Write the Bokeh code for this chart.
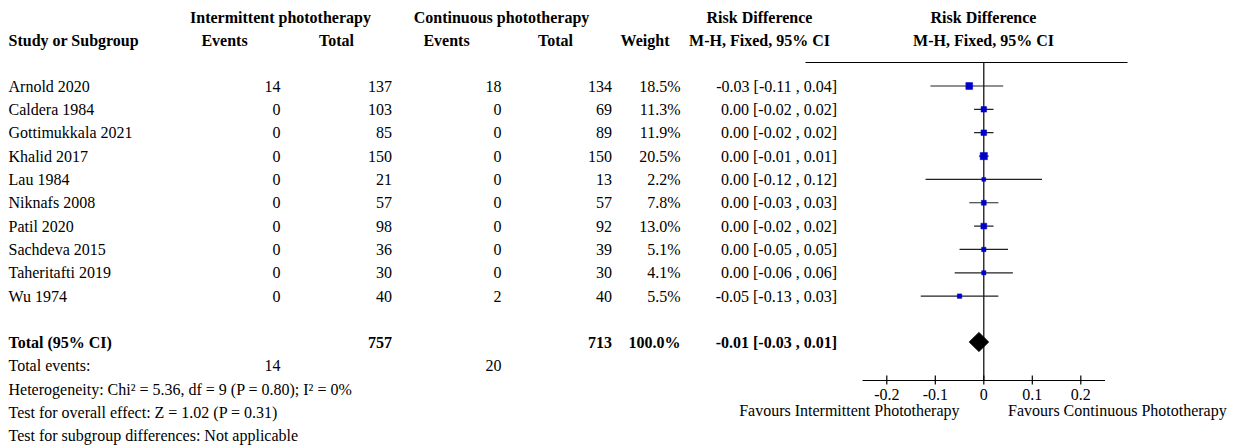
from bokeh.plotting import figure
from bokeh.models import Range1d, ColumnDataSource
from bokeh.core.properties import value
from bokeh.embed import file_html
from bokeh.resources import INLINE

# ---- data -------------------------------------------------------------
studies = ["Arnold 2020", "Caldera 1984", "Gottimukkala 2021", "Khalid 2017",
           "Lau 1984", "Niknafs 2008", "Patil 2020", "Sachdeva 2015",
           "Taheritafti 2019", "Wu 1974"]
int_events = [14, 0, 0, 0, 0, 0, 0, 0, 0, 0]
int_total = [137, 103, 85, 150, 21, 57, 98, 36, 30, 40]
cont_events = [18, 0, 0, 0, 0, 0, 0, 0, 0, 2]
cont_total = [134, 69, 89, 150, 13, 57, 92, 39, 30, 40]
weights = [18.5, 11.3, 11.9, 20.5, 2.2, 7.8, 13.0, 5.1, 4.1, 5.5]
rd = [-0.03, 0.00, 0.00, 0.00, 0.00, 0.00, 0.00, 0.00, 0.00, -0.05]
ci_lo = [-0.11, -0.02, -0.02, -0.01, -0.12, -0.03, -0.02, -0.05, -0.06, -0.13]
ci_hi = [0.04, 0.02, 0.02, 0.01, 0.12, 0.03, 0.02, 0.05, 0.06, 0.03]

total_int = 757
total_cont = 713
total_weight = 100.0
total_rd = -0.01
total_lo = -0.03
total_hi = 0.01
events_int = 14
events_cont = 20

tick_values = [-0.2, -0.1, 0, 0.1, 0.2]
tick_labels = ["-0.2", "-0.1", "0", "0.1", "0.2"]
axis_span = [-0.25, 0.25]

FONT = value("Liberation Serif")
FS = "16px"

# ---- layout -----------------------------------------------------------
W, H = 1235, 445
zero_px = 983.3          # screen x of RD = 0
px_per_unit = 485.0      # screen px per 1.0 risk difference

row0 = 85.5
row_step = 23.35
row_y = [row0 + i * row_step for i in range(len(studies))]
total_y = 341.5
summary_y = [365, 388.5, 411.5, 435]
axis_y = 380
top_rule_y = 62

p = figure(width=W, height=H, x_range=Range1d(0, W), y_range=Range1d(H, 0),
           min_border=0, toolbar_location=None, output_backend="svg")
p.axis.visible = False
p.grid.visible = False
p.outline_line_color = None
p.background_fill_color = "white"
p.extra_x_ranges = {"rd": Range1d(start=-zero_px / px_per_unit,
                                  end=(W - zero_px) / px_per_unit)}


def txt(x, y, s, align="left", bold=False, **kw):
    p.text(x=[x], y=[y], text=[s], text_font=FONT, text_font_size=FS,
           text_align=align, text_baseline="middle",
           text_font_style="bold" if bold else "normal",
           text_color="black", **kw)


# ---- header -----------------------------------------------------------
txt(280, 17, "Intermittent phototherapy", "center", True)
txt(501, 17, "Continuous phototherapy", "center", True)
txt(759, 17, "Risk Difference", "center", True)
txt(983, 17, "Risk Difference", "center", True)
txt(8, 40, "Study or Subgroup", "left", True)
txt(224, 40, "Events", "center", True)
txt(336, 40, "Total", "center", True)
txt(446, 40, "Events", "center", True)
txt(555, 40, "Total", "center", True)
txt(669, 40, "Weight", "right", True)
txt(759, 40, "M-H, Fixed, 95% CI", "center", True)
txt(983, 40, "M-H, Fixed, 95% CI", "center", True)

# ---- study rows -------------------------------------------------------
def fmt_ci(e, lo, hi):
    return f"{e:.2f} [{lo:.2f} , {hi:.2f}]"


src = ColumnDataSource(dict(
    y=row_y, study=studies,
    ie=[str(v) for v in int_events], it=[str(v) for v in int_total],
    ce=[str(v) for v in cont_events], ct=[str(v) for v in cont_total],
    w=[f"{v:.1f}%" for v in weights],
    ci=[fmt_ci(a, b, c) for a, b, c in zip(rd, ci_lo, ci_hi)],
    rd=rd, lo=ci_lo, hi=ci_hi,
    size=[3.5 + 0.18 * v for v in weights],
))

common = dict(source=src, y="y", text_font=FONT, text_font_size=FS,
              text_baseline="middle", text_color="black")
p.text(x=8, text="study", text_align="left", **common)
p.text(x=280, text="ie", text_align="right", **common)
p.text(x=391.5, text="it", text_align="right", **common)
p.text(x=501, text="ce", text_align="right", **common)
p.text(x=611.5, text="ct", text_align="right", **common)
p.text(x=680, text="w", text_align="right", **common)
p.text(x=836.5, text="ci", text_align="right", **common)

# ---- totals and summary text -----------------------------------------
txt(8, total_y, "Total (95% CI)", "left", True)
txt(391.5, total_y, str(total_int), "right", True)
txt(611.5, total_y, str(total_cont), "right", True)
txt(680, total_y, f"{total_weight:.1f}%", "right", True)
txt(836.5, total_y, fmt_ci(total_rd, total_lo, total_hi), "right", True)

txt(8, summary_y[0], "Total events:")
txt(280, summary_y[0], str(events_int), "right")
txt(501, summary_y[0], str(events_cont), "right")
txt(8, summary_y[1], "Heterogeneity: Chi\u00b2 = 5.36, df = 9 (P = 0.80); I\u00b2 = 0%")
txt(8, summary_y[2], "Test for overall effect: Z = 1.02 (P = 0.31)")
txt(8, summary_y[3], "Test for subgroup differences: Not applicable")

# ---- forest plot ------------------------------------------------------
# header rule and line of no effect
p.segment(x0=[805], y0=[top_rule_y], x1=[1127], y1=[top_rule_y],
          line_color="black", line_width=1.2)
p.segment(x0=[0], y0=[top_rule_y], x1=[0], y1=[axis_y],
          x_range_name="rd", line_color="black", line_width=1.2)

# confidence intervals and weighted point estimates
p.segment(x0="lo", y0="y", x1="hi", y1="y", source=src, x_range_name="rd",
          line_color="#222222", line_width=1.2)
p.scatter(x="rd", y="y", size="size", marker="square", source=src,
          x_range_name="rd", fill_color="#0000cc", line_color="#0000cc",
          line_width=0.5)

# pooled estimate diamond
half_h = 9.5
p.patch(x=[total_lo, total_rd, total_hi, total_rd],
        y=[total_y, total_y - half_h, total_y, total_y + half_h],
        x_range_name="rd", fill_color="black", line_color="black")

# scale
p.segment(x0=[axis_span[0]], y0=[axis_y], x1=[axis_span[1]], y1=[axis_y],
          x_range_name="rd", line_color="black", line_width=1.2)
p.segment(x0=tick_values, y0=[axis_y - 5] * len(tick_values),
          x1=tick_values, y1=[axis_y + 4] * len(tick_values),
          x_range_name="rd", line_color="black", line_width=1.2)
p.text(x=tick_values, y=[394] * len(tick_values), text=tick_labels,
       x_range_name="rd", text_font=FONT, text_font_size=FS,
       text_align="center", text_baseline="middle", text_color="black")
p.text(x=[-0.05], y=[409.5], text=["Favours Intermittent Phototherapy"],
       x_range_name="rd", text_font=FONT, text_font_size=FS,
       text_align="right", text_baseline="middle", text_color="black")
p.text(x=[0.05], y=[409.5], text=["Favours Continuous Phototherapy"],
       x_range_name="rd", text_font=FONT, text_font_size=FS,
       text_align="left", text_baseline="middle", text_color="black")

open("out.html", "w").write(file_html(p, INLINE))
